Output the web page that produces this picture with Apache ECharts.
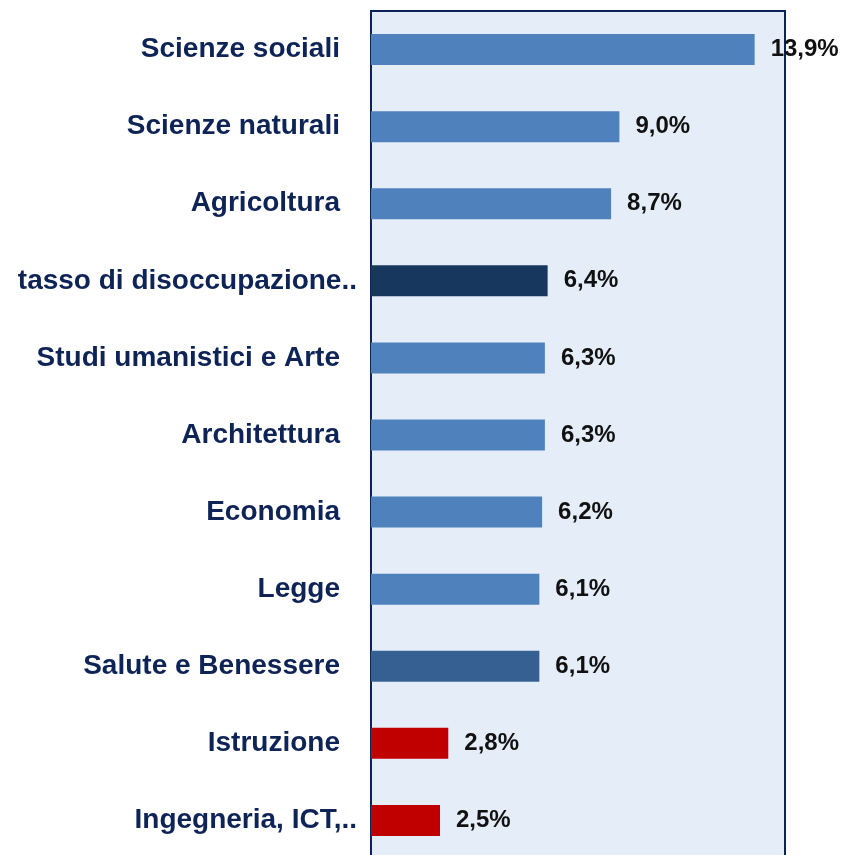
<!DOCTYPE html>
<html>
<head>
<meta charset="utf-8">
<script src="https://cdn.jsdelivr.net/npm/echarts@6/dist/echarts.min.js"></script>
<style>
html,body{margin:0;padding:0;background:#fff;overflow:hidden;}
#chart{width:843px;height:870px;}
</style>
</head>
<body>
<div id="chart"></div>
<script>
const categories = [
  "Scienze sociali",
  "Scienze naturali",
  "Agricoltura",
  "tasso di disoccupazione..",
  "Studi umanistici e Arte",
  "Architettura",
  "Economia",
  "Legge",
  "Salute e Benessere",
  "Istruzione",
  "Ingegneria, ICT,.."
];
const values = [13.9, 9.0, 8.7, 6.4, 6.3, 6.3, 6.2, 6.1, 6.1, 2.8, 2.5];
const barColors = ["#4F81BD","#4F81BD","#4F81BD","#17375E","#4F81BD","#4F81BD","#4F81BD","#4F81BD","#376092","#C00000","#C00000"];

const FONT = 'Arial';
const chart = echarts.init(document.getElementById('chart'));
chart.setOption({
  animation: false,
  textStyle: { fontFamily: FONT },
  grid: {
    left: 371, right: 58, top: 11, height: 848,
    show: true, backgroundColor: '#E5EEF8', borderColor: '#0E2356', borderWidth: 2
  },
  xAxis: {
    type: 'value', min: 0, max: 15, show: false
  },
  yAxis: {
    type: 'category', data: categories, inverse: true,
    axisLine: { show: false }, axisTick: { show: false }, splitLine: { show: false },
    axisLabel: {
      margin: 14,
      fontFamily: FONT, fontWeight: 'bold', fontSize: 28, color: '#0E2356',
      formatter: function (v) {
        return v.endsWith('..') ? '{e|' + v + '}' : '{n|' + v + '}';
      },
      rich: {
        n: { fontFamily: FONT, fontWeight: 'bold', fontSize: 28, color: '#0E2356', padding: [0, 17, 0, 0] },
        e: { fontFamily: FONT, fontWeight: 'bold', fontSize: 28, color: '#0E2356' }
      }
    }
  },
  series: [{
    type: 'bar',
    barWidth: 31,
    data: values.map((v, i) => ({ value: v, itemStyle: { color: barColors[i] } })),
    label: {
      show: true, position: 'right', distance: 16,
      fontFamily: FONT, fontWeight: 'bold', fontSize: 24, color: '#111',
      formatter: p => p.value.toFixed(1).replace('.', ',') + '%'
    },
    z: 3
  }]
});
</script>
</body>
</html>
